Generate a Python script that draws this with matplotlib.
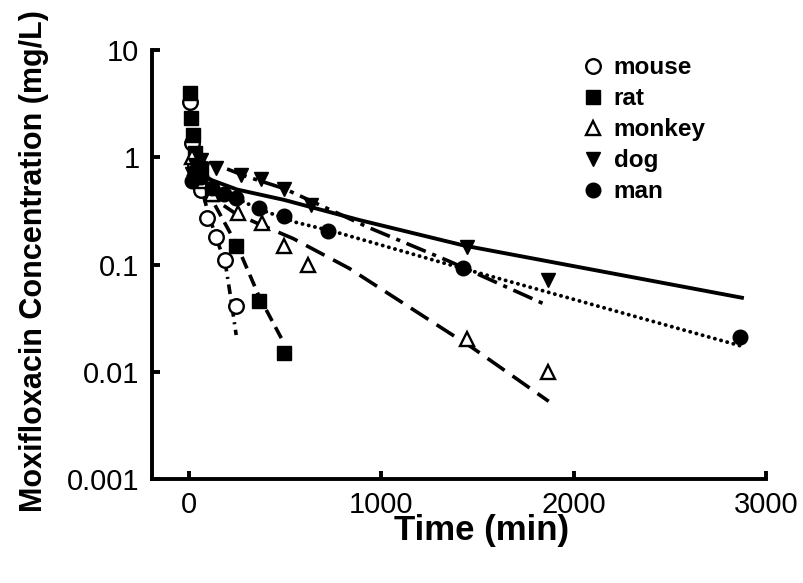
import matplotlib
matplotlib.use("Agg")
import matplotlib.pyplot as plt
from matplotlib.lines import Line2D

plt.rcParams['font.family'] = ['Liberation Sans', 'DejaVu Sans']
plt.rcParams['lines.scale_dashes'] = False

# observed concentrations (mg/L) vs time (min)
mouse_t = [5, 15, 30, 60, 95, 140, 188, 245]
mouse_c = [3.3, 1.35, 0.85, 0.5, 0.27, 0.18, 0.11, 0.041]

rat_t = [5, 10, 20, 30, 60, 120, 245, 365, 495]
rat_c = [4.0, 2.3, 1.6, 1.1, 0.75, 0.45, 0.15, 0.046, 0.015]

monkey_t = [15, 30, 60, 120, 255, 380, 495, 620, 1445, 1865]
monkey_c = [1.0, 0.8, 0.6, 0.45, 0.30, 0.245, 0.15, 0.098, 0.020, 0.010]

dog_t = [15, 30, 60, 140, 270, 375, 495, 635, 1445, 1865]
dog_c = [0.7, 0.85, 0.95, 0.80, 0.68, 0.63, 0.51, 0.36, 0.145, 0.072]

man_t = [15, 30, 60, 120, 180, 245, 365, 495, 720, 1425, 2865]
man_c = [0.6, 0.75, 0.65, 0.52, 0.45, 0.42, 0.34, 0.285, 0.205, 0.092, 0.021]

# fitted curves
mouse_fit_t = [2, 30, 60, 100, 146, 188, 219, 245]
mouse_fit_c = [3.0, 1.0, 0.55, 0.30, 0.167, 0.104, 0.046, 0.022]

rat_fit_t = [2, 15, 30, 60, 120, 250, 365, 490]
rat_fit_c = [4.0, 2.0, 1.2, 0.7, 0.4, 0.15, 0.05, 0.019]

monkey_fit_t = [2, 60, 120, 240, 360, 540, 833, 1474, 1870]
monkey_fit_c = [1.0, 0.55, 0.42, 0.30, 0.24, 0.175, 0.092, 0.0167, 0.0053]

dog_fit_t = [5, 60, 180, 300, 495, 937, 1354, 1870]
dog_fit_c = [1.0, 0.92, 0.80, 0.66, 0.51, 0.22, 0.107, 0.041]

man_fit_t = [5, 60, 240, 360, 557, 766, 1422, 2865]
man_fit_c = [0.8, 0.6, 0.42, 0.33, 0.247, 0.20, 0.092, 0.0175]

solid_t = [5, 30, 120, 250, 495, 885, 1432, 2875]
solid_c = [0.9, 0.75, 0.61, 0.5, 0.40, 0.26, 0.15, 0.049]

yticks = [0.001, 0.01, 0.1, 1, 10]
ytick_labels = ['0.001', '0.01', '0.1', '1', '10']
xticks = [0, 1000, 2000, 3000]

fig = plt.figure(figsize=(8.04, 5.83), dpi=100)
ax = fig.add_axes([0.189, 0.1784, 0.7637, 0.7358])

lw = 2.6
ax.plot(mouse_fit_t, mouse_fit_c, color='black', lw=lw, linestyle=(0, (7, 4, 1.5, 4)))
ax.plot(rat_fit_t, rat_fit_c, color='black', lw=lw, linestyle=(0, (9, 5)))
ax.plot(monkey_fit_t, monkey_fit_c, color='black', lw=lw, linestyle=(0, (15, 7)))
ax.plot(dog_fit_t, dog_fit_c, color='black', lw=lw, linestyle=(0, (15, 5, 3, 5)))
ax.plot(man_fit_t, man_fit_c, color='black', lw=2.8, linestyle=(0, (0.1, 4.5)),
        dash_capstyle='round')
ax.plot(solid_t, solid_c, color='black', lw=2.8)

ms = 10.5
ax.plot(mouse_t, mouse_c, 'o', ms=ms, mfc='white', mec='black', mew=1.7, ls='none')
ax.plot(rat_t, rat_c, 's', ms=ms - 0.8, color='black', ls='none')
ax.plot(monkey_t, monkey_c, '^', ms=ms, mfc='white', mec='black', mew=1.7, ls='none')
ax.plot(dog_t, dog_c, 'v', ms=ms, color='black', ls='none')
ax.plot(man_t, man_c, 'o', ms=ms, color='black', ls='none')

ax.set_yscale('log')
ax.set_xlim(-193, 3000)
ax.set_ylim(0.001, 10)
ax.set_yticks(yticks)
ax.set_yticklabels(ytick_labels)
ax.minorticks_off()
ax.set_xticks(xticks)

for side in ['top', 'right']:
    ax.spines[side].set_visible(False)
for side in ['left', 'bottom']:
    ax.spines[side].set_linewidth(2.8)
ax.tick_params(direction='in', length=6, width=2.8, labelsize=21, pad=9)

ax.set_xlabel('Time (min)', fontsize=25, fontweight='bold')
ax.set_ylabel('Moxifloxacin Concentration (mg/L)', fontsize=22, fontweight='bold')
ax.xaxis.set_label_coords(0.536, -0.082)
ax.yaxis.set_label_coords(-0.167, 0.508)

handles = [
    Line2D([], [], marker='o', ms=ms, mfc='white', mec='black', mew=1.7, ls='none'),
    Line2D([], [], marker='s', ms=ms - 0.8, color='black', ls='none'),
    Line2D([], [], marker='^', ms=ms, mfc='white', mec='black', mew=1.7, ls='none'),
    Line2D([], [], marker='v', ms=ms, color='black', ls='none'),
    Line2D([], [], marker='o', ms=ms, color='black', ls='none'),
]
labels = ['mouse', 'rat', 'monkey', 'dog', 'man']
ax.legend(handles, labels, loc='upper left', bbox_to_anchor=(571 / 804, 1 - 44 / 583),
          bbox_transform=fig.transFigure, frameon=False, handlelength=0.8,
          handletextpad=0.45, labelspacing=0.33, borderpad=0,
          prop={'size': 17.5, 'weight': 'bold'})

fig.savefig('out.png', dpi=100)
